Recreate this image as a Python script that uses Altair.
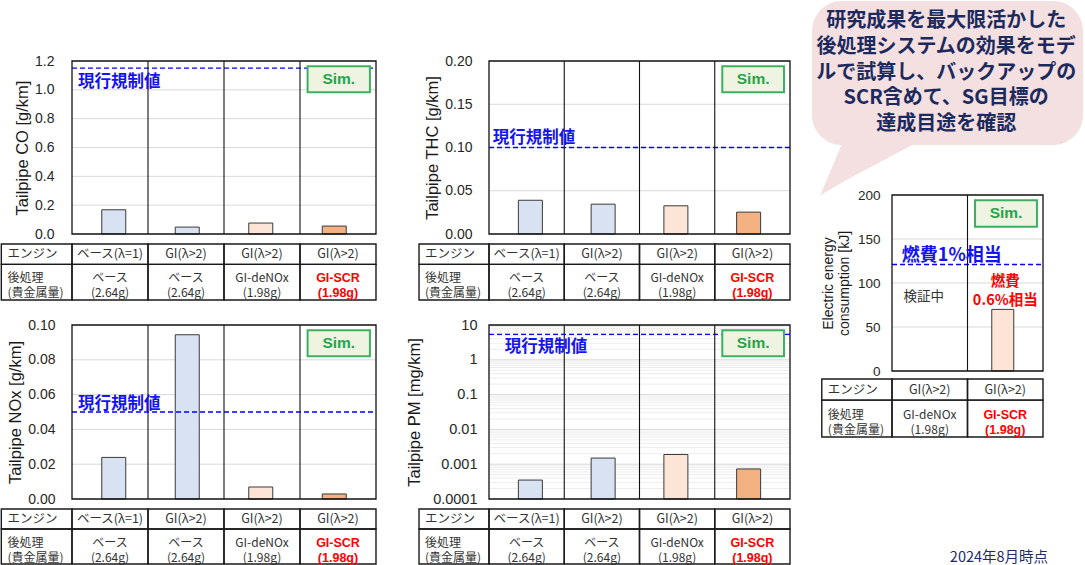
import altair as alt
import pandas as pd

NUM_FONT = "Liberation Sans"
JP_FONT = "Noto Sans CJK JP"
BLUE = "#1414F0"
NAVY = "#1C2A5E"
RED = "#FF0000"
GREEN = "#1FA64A"
TXT = "#262626"

# ---------------- data ----------------
engine_row = ["ベース(λ=1)", "GI(λ>2)", "GI(λ>2)", "GI(λ>2)"]
after_row = ["ベース\n(2.64g)", "ベース\n(2.64g)", "GI-deNOx\n(1.98g)", "GI-SCR\n(1.98g)"]
after_red = [False, False, False, True]
row_heads = ["エンジン", "後処理\n(貴金属量)"]
bar_fill = ["#D9E2F3", "#D9E2F3", "#FCE4D6", "#F4B184"]

co_values = [0.168, 0.048, 0.076, 0.055]
thc_values = [0.039, 0.0345, 0.0326, 0.0253]
nox_values = [0.0239, 0.0944, 0.0069, 0.0029]
pm_values = [0.00035, 0.0015, 0.0019, 0.00073]

co_ticks = [0.0, 0.2, 0.4, 0.6, 0.8, 1.0, 1.2]
thc_ticks = [0.0, 0.05, 0.10, 0.15, 0.20]
nox_ticks = [0.0, 0.02, 0.04, 0.06, 0.08, 0.10]
pm_ticks = [0.0001, 0.001, 0.01, 0.1, 1, 10]
pm_minor = [m * d for d in [0.0001, 0.001, 0.01, 0.1, 1] for m in range(2, 10)]
elec_ticks = [0, 50, 100, 150, 200]

co_limit, thc_limit, nox_limit, pm_limit = 1.15, 0.10, 0.05, 5.4
limit_label = "現行規制値"

elec_engine = ["GI(λ>2)", "GI(λ>2)"]
elec_after = ["GI-deNOx\n(1.98g)", "GI-SCR\n(1.98g)"]
elec_red = [False, True]
elec_pos = [1.5]
elec_values = [70]
elec_fill = ["#FCE4D6"]
elec_ref = 121
elec_ref_label = "燃費1%相当"
elec_pending = "検証中"
elec_note = ["燃費", "0.6%相当"]

bubble_lines = ["研究成果を最大限活かした", "後処理システムの効果をモデ",
                "ルで試算し、バックアップの", "SCR含めて、SG目標の", "達成目途を確認"]
footnote = "2024年8月時点"

layers = []


def lin(dom, rng):
    return alt.Scale(domain=dom, range=rng, nice=False, zero=False)


def xy(xs, ys, xf="x", yf="y"):
    return dict(x=alt.X(f"{xf}:Q", scale=xs, axis=None), y=alt.Y(f"{yf}:Q", scale=ys, axis=None))


def texts(df, xs, ys, color, size, weight="normal", align="center", font=JP_FONT, dy=0, lh=None):
    kw = dict(color=color, fontSize=size, fontWeight=weight, align=align, baseline="middle",
              font=font, dy=dy, lineBreak="\n")
    if lh:
        kw["lineHeight"] = lh
    return alt.Chart(df).mark_text(**kw).encode(text="t:N", **xy(xs, ys))


def add_panel(values, positions, fills, ncol, xr, yr, dom, ticks, fmt, title, limit,
              lab_text, lab_x, lab_dy, lab_fs, bar_w, label_pad, title_pad, tick_fs,
              title_fs, log=False, minor=None, title_lh=None):
    xs = lin([0, ncol], xr)
    ys = alt.Scale(type="log", domain=dom, range=yr, nice=False) if log else lin(dom, yr)
    # minor grid
    if minor:
        mdf = pd.DataFrame({"y": minor, "x0": 0, "x1": ncol})
        layers.append(alt.Chart(mdf).mark_rule(color="#EDEDED", strokeWidth=1).encode(
            x=alt.X("x0:Q", scale=xs, axis=None), x2="x1:Q", y=alt.Y("y:Q", scale=ys, axis=None)))
    gdf = pd.DataFrame({"y": ticks[1:-1], "x0": 0, "x1": ncol})
    layers.append(alt.Chart(gdf).mark_rule(color="#D9D9D9", strokeWidth=1).encode(
        x=alt.X("x0:Q", scale=xs, axis=None), x2="x1:Q", y=alt.Y("y:Q", scale=ys, axis=None)))
    # bars with the y axis
    bdf = pd.DataFrame({"pos": positions, "value": values, "fill": fills,
                        "base": [dom[0]] * len(values)})
    axis = alt.Axis(values=ticks, orient="left", offset=-xr[0], grid=False, domain=False,
                    ticks=False, tickSize=0, labelPadding=label_pad, labelFont=NUM_FONT,
                    labelFontSize=tick_fs, labelColor=TXT, format=fmt, title=title,
                    titleFont=NUM_FONT, titleFontSize=title_fs, titleFontWeight="normal",
                    titleColor="#1A1A1A", titlePadding=title_pad,
                    **({"titleLineHeight": title_lh} if title_lh else {}))
    layers.append(alt.Chart(bdf).mark_bar(size=bar_w, stroke="#3A3A3A", strokeWidth=1).encode(
        x=alt.X("pos:Q", scale=xs, axis=None),
        y=alt.Y("value:Q", scale=ys, axis=axis),
        y2="base:Q",
        fill=alt.Fill("fill:N", scale=None)))
    # limit line
    ldf = pd.DataFrame({"y": [limit], "x0": 0, "x1": ncol})
    layers.append(alt.Chart(ldf).mark_rule(color="#0000FF", strokeDash=[5, 3], strokeWidth=1.3).encode(
        x=alt.X("x0:Q", scale=xs, axis=None), x2="x1:Q", y=alt.Y("y:Q", scale=ys, axis=None)))
    # frame and dividers
    fdf = pd.DataFrame({"x0": [0], "x1": [ncol], "y0": [dom[0]], "y1": [dom[1]]})
    layers.append(alt.Chart(fdf).mark_rect(fillOpacity=0, stroke="#111111", strokeWidth=1.3).encode(
        x=alt.X("x0:Q", scale=xs, axis=None), x2="x1:Q",
        y=alt.Y("y0:Q", scale=ys, axis=None), y2="y1:Q"))
    ddf = pd.DataFrame({"x": list(range(1, ncol)), "y0": dom[0], "y1": dom[1]})
    layers.append(alt.Chart(ddf).mark_rule(color="#111111", strokeWidth=1.1).encode(
        x=alt.X("x:Q", scale=xs, axis=None), y=alt.Y("y0:Q", scale=ys, axis=None), y2="y1:Q"))
    # limit label
    tdf = pd.DataFrame({"x": [lab_x], "y": [limit], "t": [lab_text]})
    layers.append(texts(tdf, xs, ys, BLUE, lab_fs, weight="bold", align="left", dy=lab_dy))
    # Sim. box
    fy = lin([0, 1], yr)
    sdf = pd.DataFrame({"x0": [ncol - 0.9], "x1": [ncol - 0.08], "y0": [0.82], "y1": [0.97]})
    layers.append(alt.Chart(sdf).mark_rect(fill="#EEF3E2", stroke="#3DB160", strokeWidth=2).encode(
        x=alt.X("x0:Q", scale=xs, axis=None), x2="x1:Q",
        y=alt.Y("y0:Q", scale=fy, axis=None), y2="y1:Q"))
    stdf = pd.DataFrame({"x": [ncol - 0.49], "y": [0.895], "t": ["Sim."]})
    layers.append(texts(stdf, xs, fy, GREEN, 15.5, weight="bold", font=NUM_FONT))
    return xs, ys


def add_table(xs, yr, ncol, engine, after, red):
    ys = lin([0, 2.75], yr)
    edges = [-0.93] + list(range(ncol + 1))
    cells = []
    for r0, r1 in [(0, 1), (1, 2.75)]:
        for c in range(ncol + 1):
            cells.append({"x0": edges[c], "x1": edges[c + 1], "y0": r0, "y1": r1})
    layers.append(alt.Chart(pd.DataFrame(cells)).mark_rect(
        fillOpacity=0, stroke="#1A1A1A", strokeWidth=1.4).encode(
        x=alt.X("x0:Q", scale=xs, axis=None), x2="x1:Q",
        y=alt.Y("y0:Q", scale=ys, axis=None), y2="y1:Q"))
    hdf = pd.DataFrame({"x": [-0.85], "y": [0.5], "t": row_heads[:1]})
    layers.append(texts(hdf, xs, ys, "#333333", 12.5, align="left"))
    hdf2 = pd.DataFrame({"x": [-0.85], "y": [1.875], "t": row_heads[1:]})
    layers.append(texts(hdf2, xs, ys, "#333333", 12, align="left", lh=15, dy=-4))
    edf = pd.DataFrame({"x": [i + 0.5 for i in range(ncol)], "y": 0.5, "t": engine})
    layers.append(texts(edf, xs, ys, "#333333", 12.5))
    adf = pd.DataFrame({"x": [i + 0.5 for i in range(ncol)], "y": 1.875, "t": after, "red": red})
    layers.append(texts(adf[~adf.red], xs, ys, "#333333", 12, lh=15, dy=-4))
    layers.append(texts(adf[adf.red], xs, ys, RED, 12.5, weight="bold", font=NUM_FONT, lh=15, dy=-4))


pos4 = [0.5, 1.5, 2.5, 3.5]

# left column
xs_l, _ = add_panel(co_values, pos4, bar_fill, 4, [72, 376], [234, 61], [0, 1.2], co_ticks, ".1f",
                    "Tailpipe CO [g/km]", co_limit, limit_label, 0.08, 13.5, 16.5, 24, 18, 4, 14, 16.5)
add_table(xs_l, [244, 300], 4, engine_row, after_row, after_red)
add_panel(nox_values, pos4, bar_fill, 4, [72, 376], [499, 325], [0, 0.1], nox_ticks, ".2f",
          "Tailpipe NOx [g/km]", nox_limit, limit_label, 0.08, -8, 16.5, 24, 17, 4, 14, 16.5)
add_table(xs_l, [509, 564], 4, engine_row, after_row, after_red)

# middle column
xs_m, _ = add_panel(thc_values, pos4, bar_fill, 4, [489, 790], [234, 61], [0, 0.2], thc_ticks, ".2f",
                    "Tailpipe THC [g/km]", thc_limit, limit_label, 0.05, -10, 16.5, 24, 17, 4, 14, 16.5)
add_table(xs_m, [244, 300], 4, engine_row, after_row, after_red)
add_panel(pm_values, pos4, bar_fill, 4, [489, 790], [499, 325], [0.0001, 10], pm_ticks, "~g",
          "Tailpipe PM [mg/km]", pm_limit, limit_label, 0.21, 13, 16.5, 24, 12, 10, 14.5, 16.5,
          log=True, minor=pm_minor)
add_table(xs_m, [509, 564], 4, engine_row, after_row, after_red)

# right column: electric energy
xs_r, ys_r = add_panel(elec_values, elec_pos, elec_fill, 2, [892, 1043], [371, 195], [0, 200],
                       elec_ticks, "d", ["Electric energy", "consumption [kJ]"], elec_ref,
                       elec_ref_label, 0.13, -9, 18, 22, 12, 6, 13.5, 14, title_lh=16)
layers.append(texts(pd.DataFrame({"x": [0.42], "y": [84], "t": [elec_pending]}),
                    xs_r, ys_r, "#333333", 13.5))
layers.append(texts(pd.DataFrame({"x": [1.5, 1.5], "y": [101, 80], "t": elec_note}),
                    xs_r, ys_r, RED, 14.5, weight="bold"))
add_table(xs_r, [379, 437], 2, elec_engine, elec_after, elec_red)

# speech bubble
bx = lin([0, 1], [812, 1083])
by = lin([0, 1], [145, 1])
layers.append(alt.Chart(pd.DataFrame({"x0": [0], "x1": [1], "y0": [0], "y1": [1]})).mark_rect(
    fill="#F4E0E0", cornerRadius=30).encode(
    x=alt.X("x0:Q", scale=bx, axis=None), x2="x1:Q", y=alt.Y("y0:Q", scale=by, axis=None), y2="y1:Q"))
tail_x = [0.03, 0.12, 0.42]
tail_top = [-0.35, 0.05, 0.05]
tail_bot = [-0.35, -0.25, 0.05]
layers.append(alt.Chart(pd.DataFrame({"x": tail_x, "y": tail_top, "y2": tail_bot})).mark_area(
    fill="#F4E0E0").encode(
    x=alt.X("x:Q", scale=bx, axis=None), y=alt.Y("y:Q", scale=by, axis=None), y2="y2:Q"))
line_y = lin([0, 4], [21, 124])
bdf = pd.DataFrame({"x": 0.495, "y": list(range(len(bubble_lines))), "t": bubble_lines})
layers.append(texts(bdf, bx, line_y, NAVY, 20, weight="bold"))

# footnote
fx = lin([0, 1], [0, 1085])
fy = lin([0, 1], [0, 565])
layers.append(texts(pd.DataFrame({"x": [0.966], "y": [0.988], "t": [footnote]}), fx, fy,
                    "#1F2A6B", 14.5, align="right"))

chart = alt.layer(*layers).resolve_scale(x="independent", y="independent").properties(
    width=1085, height=565, padding=0, autosize=alt.AutoSizeParams(type="none")
).configure_view(stroke=None)

chart.save("out.html", embed_options={"renderer": "svg", "actions": False})
